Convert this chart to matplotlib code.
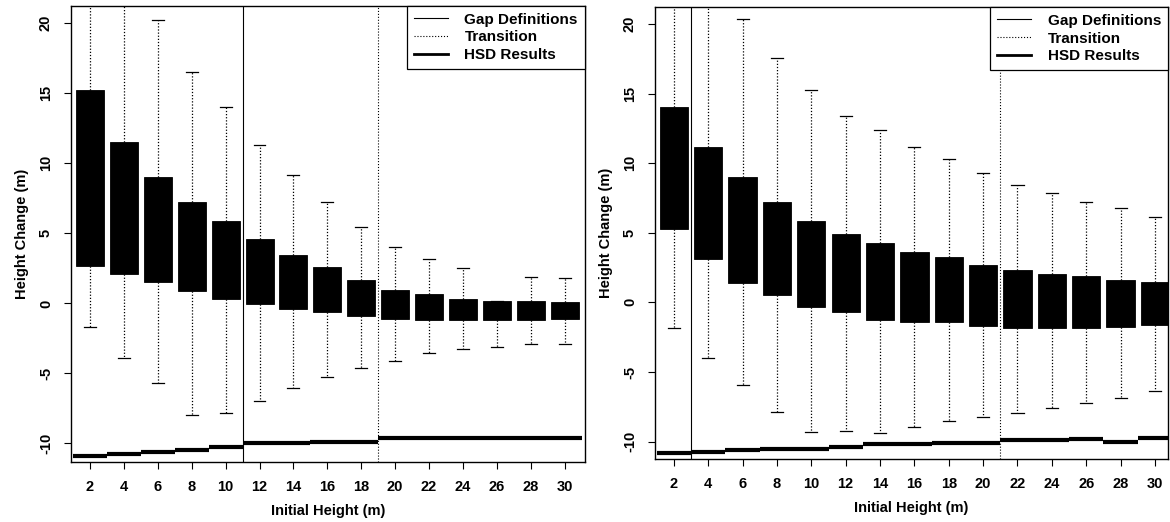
import matplotlib.pyplot as plt
from matplotlib.lines import Line2D

plt.rcParams['font.family'] = ['Liberation Sans', 'DejaVu Sans']
plt.rcParams['font.weight'] = 'bold'
plt.rcParams['axes.labelweight'] = 'bold'
plt.rcParams['font.size'] = 10

heights = [2, 4, 6, 8, 10, 12, 14, 16, 18, 20, 22, 24, 26, 28, 30]

# left panel
left_q3 = [15.2, 11.5, 9.05, 7.27, 5.9, 4.58, 3.46, 2.59, 1.68, 0.96, 0.65, 0.3, 0.18, 0.18, 0.09]
left_q1 = [2.7, 2.1, 1.55, 0.9, 0.32, -0.04, -0.41, -0.58, -0.89, -1.11, -1.18, -1.18, -1.18, -1.18, -1.13]
left_hi = [24, 24, 20.2, 16.55, 14.05, 11.3, 9.18, 7.23, 5.49, 4.06, 3.2, 2.5, 0.18, 1.92, 1.8]
left_lo = [-1.65, -3.9, -5.7, -7.96, -7.85, -6.96, -6.06, -5.27, -4.58, -4.08, -3.56, -3.27, -3.08, -2.89, -2.89]
left_hsd = [-10.9, -10.72, -10.6, -10.45, -10.22, -10.0, -10.0, -9.88, -9.88,
            -9.63, -9.63, -9.63, -9.63, -9.58, -9.58]
left_gap = 11
left_transition = 19

# right panel
right_q3 = [14.06, 11.19, 9.03, 7.24, 5.87, 4.91, 4.24, 3.64, 3.28, 2.69, 2.33, 2.02, 1.9, 1.61, 1.49]
right_q1 = [5.25, 3.12, 1.4, 0.53, -0.31, -0.71, -1.26, -1.43, -1.43, -1.67, -1.82, -1.82, -1.82, -1.75, -1.62]
right_hi = [24, 24, 20.36, 17.58, 15.26, 13.41, 12.38, 11.19, 10.28, 9.32, 8.43, 7.84, 7.23, 6.8, 6.11]
right_lo = [-1.82, -3.97, -5.93, -7.9, -9.29, -9.24, -9.36, -8.93, -8.52, -8.26, -7.97, -7.56, -7.25, -6.85, -6.37]
right_hsd = [-10.8, -10.76, -10.63, -10.5, -10.5, -10.37, -10.16, -10.16, -10.08, -10.08,
             -9.88, -9.88, -9.81, -10.0, -9.72]
right_gap = 3
right_transition = 21

legend_labels = ["Gap Definitions", "Transition", "HSD Results"]


def draw(ax, q1, q3, lo, hi, hsd, gap, trans, xlim, ylim):
    stats = []
    for a, b, c, d in zip(q1, q3, lo, hi):
        stats.append({'q1': a, 'q3': b, 'med': a, 'whislo': c, 'whishi': d, 'fliers': []})
    ax.bxp(stats, positions=heights, widths=1.65, capwidths=0.7, patch_artist=True,
           showfliers=False,
           boxprops=dict(facecolor='black', edgecolor='black', linewidth=0.6),
           whiskerprops=dict(color='black', linestyle=(0, (1, 1.5)), linewidth=0.9),
           capprops=dict(color='black', linewidth=0.9),
           medianprops=dict(visible=False))
    for h, v in zip(heights, hsd):
        ax.hlines(v, h - 1, h + 1, color='black', linewidth=3.0)
    ax.axvline(gap, color='black', linewidth=0.8)
    ax.axvline(trans, color='black', linestyle=':', linewidth=0.8)

    ax.set_xlim(*xlim)
    ax.set_ylim(*ylim)
    ax.set_xticks(heights)
    ax.set_xticklabels([str(h) for h in heights], fontsize=10.5)
    ax.set_yticks([-10, -5, 0, 5, 10, 15, 20])
    ax.set_yticklabels(['-10', '-5', '0', '5', '10', '15', '20'], rotation=90, va='center',
                       fontsize=10.5)
    ax.tick_params(length=5, width=0.8, pad=8)
    for s in ax.spines.values():
        s.set_linewidth(1.0)
    ax.set_xlabel("Initial Height (m)", labelpad=7, fontsize=10.5)
    ax.set_ylabel("Height Change (m)", labelpad=7, fontsize=10.5)

    handles = [Line2D([], [], color='black', linewidth=0.8),
               Line2D([], [], color='black', linestyle=':', linewidth=0.8),
               Line2D([], [], color='black', linewidth=2.0)]
    leg = ax.legend(handles, legend_labels, loc='upper right', borderaxespad=0,
                    fancybox=False, edgecolor='black', framealpha=1, fontsize=11,
                    handlelength=2.2, handletextpad=1.1, labelspacing=0.25,
                    borderpad=0.45)
    leg.get_frame().set_linewidth(0.9)


fig = plt.figure(figsize=(11.7, 5.22), dpi=100)
ax1 = fig.add_axes([0.0607, 0.115, 0.439, 0.874])
ax2 = fig.add_axes([0.5598, 0.1207, 0.4385, 0.866])

draw(ax1, left_q1, left_q3, left_lo, left_hi, left_hsd, left_gap, left_transition,
     (0.88, 31.18), (-11.32, 21.25))
draw(ax2, right_q1, right_q3, right_lo, right_hi, right_hsd, right_gap, right_transition,
     (0.9, 30.76), (-11.25, 21.22))

fig.savefig("out.png", dpi=100)
